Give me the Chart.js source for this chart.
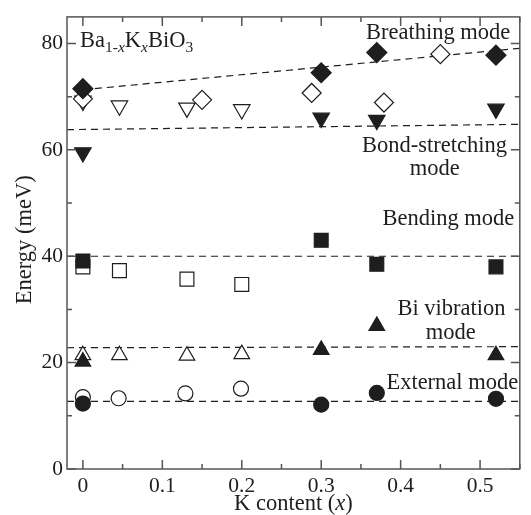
<!DOCTYPE html>
<html>
<head>
<meta charset="utf-8">
<script src="https://cdn.jsdelivr.net/npm/chart.js@4"></script>
<style>
  body { margin: 0; background: #fff; }
  canvas { display: block; }
</style>
</head>
<body>
<canvas id="myChart" width="531" height="515"></canvas>
<script>
// ---- data ----
const xTicks = [0, 0.1, 0.2, 0.3, 0.4, 0.5];
const yTicks = [0, 20, 40, 60, 80];

// breathing mode (diamonds)
const breathFilledX = [0, 0.30, 0.37, 0.52];
const breathFilledY = [71.5, 74.5, 78.3, 77.8];
const breathOpenX = [0, 0.15, 0.288, 0.379, 0.45];
const breathOpenY = [69.6, 69.4, 70.7, 68.9, 78.0];

// bond-stretching mode (down triangles)
const stretchOpenX = [0, 0.046, 0.131, 0.2];
const stretchOpenY = [69.2, 68.3, 67.9, 67.6];
const stretchFilledX = [0, 0.30, 0.37, 0.52];
const stretchFilledY = [59.5, 66.0, 65.6, 67.7];

// bending mode (squares)
const bendOpenX = [0, 0.046, 0.131, 0.2];
const bendOpenY = [38.0, 37.3, 35.7, 34.7];
const bendFilledX = [0, 0.30, 0.37, 0.52];
const bendFilledY = [39.1, 43.0, 38.5, 38.0];

// Bi vibration mode (up triangles)
const biOpenX = [0, 0.046, 0.131, 0.2];
const biOpenY = [21.4, 21.4, 21.3, 21.6];
const biFilledX = [0, 0.30, 0.37, 0.52];
const biFilledY = [20.2, 22.4, 26.9, 21.4];

// external mode (circles)
const extOpenX = [0, 0.045, 0.129, 0.199];
const extOpenY = [13.5, 13.3, 14.2, 15.1];
const extFilledX = [0, 0.30, 0.37, 0.52];
const extFilledY = [12.3, 12.1, 14.3, 13.2];

// dashed guide lines
const breathLineX = [0, 0.55];
const breathLineY = [71.3, 79.1];
const stretchLineX = [-0.02, 0.55];
const stretchLineY = [63.8, 64.8];
const bendLineX = [-0.02, 0.55];
const bendLineY = [40, 40];
const biLineX = [-0.02, 0.55];
const biLineY = [22.8, 23.0];
const extLineX = [-0.02, 0.55];
const extLineY = [12.7, 12.7];

// ---- helpers ----
const FONT = '"Liberation Serif", "DejaVu Serif", serif';
const INK = '#1e1e1e';

function pts(xs, ys) {
    return xs.map((x, i) => ({ x: x, y: ys[i] }));
}

function markers(xs, ys, style, radius, filled, rotation, order) {
    return {
        data: pts(xs, ys),
        showLine: false,
        pointStyle: style,
        pointRadius: radius,
        pointRotation: rotation || 0,
        backgroundColor: filled ? INK : '#fff',
        borderColor: INK,
        borderWidth: 1.2,
        order: order,
    };
}

function dashed(xs, ys) {
    return {
        type: 'line',
        data: pts(xs, ys),
        showLine: true,
        borderColor: INK,
        borderWidth: 1.2,
        borderDash: [7, 5],
        pointRadius: 0,
        fill: false,
        order: 10,
    };
}

// ---- plugin: frame, inward ticks, labels ----
const decor = {
    id: 'decor',
    afterDraw(chart) {
        const c = chart.ctx;
        const a = chart.chartArea;
        const xs = chart.scales.x;
        const ys = chart.scales.y;
        c.save();
        c.strokeStyle = '#555';
        c.lineWidth = 1.5;
        c.strokeRect(a.left, a.top, a.right - a.left, a.bottom - a.top);

        // x ticks top & bottom
        for (let i = 0; i <= 11; i++) {
            const v = i * 0.05;
            const px = xs.getPixelForValue(v);
            const len = i % 2 === 0 ? 9 : 5;
            c.beginPath();
            c.moveTo(px, a.bottom); c.lineTo(px, a.bottom - len);
            c.moveTo(px, a.top); c.lineTo(px, a.top + len);
            c.stroke();
        }
        // y ticks left & right
        for (let v = 0; v <= 80; v += 10) {
            const py = ys.getPixelForValue(v);
            const len = v % 20 === 0 ? 9 : 5;
            c.beginPath();
            c.moveTo(a.left, py); c.lineTo(a.left + len, py);
            c.moveTo(a.right, py); c.lineTo(a.right - len, py);
            c.stroke();
        }

        c.fillStyle = INK;
        c.textBaseline = 'middle';
        const f = '22.5px ' + FONT;
        const put = (txt, x, y, align) => {
            c.font = f;
            c.textAlign = align;
            c.fillText(txt, xs.getPixelForValue(x), ys.getPixelForValue(y));
        };
        put('Breathing mode', 0.538, 81.9, 'right');
        put('Bond-stretching', 0.534, 60.8, 'right');
        put('mode', 0.443, 56.3, 'center');
        put('Bending mode', 0.543, 47.0, 'right');
        put('Bi vibration', 0.532, 30.0, 'right');
        put('mode', 0.463, 25.5, 'center');
        put('External mode', 0.548, 16.2, 'right');

        // compound label with subscripts
        const runs = [
            ['Ba', '22.5px ' + FONT, 0],
            ['1-', '15.5px ' + FONT, 5],
            ['x', 'italic 15.5px ' + FONT, 5],
            ['K', '22.5px ' + FONT, 0],
            ['x', 'italic 15.5px ' + FONT, 5],
            ['BiO', '22.5px ' + FONT, 0],
            ['3', '15.5px ' + FONT, 5],
        ];
        c.textAlign = 'left';
        c.textBaseline = 'alphabetic';
        let cx = a.left + 13;
        const base = a.top + 30;
        runs.forEach(r => {
            c.font = r[1];
            c.fillText(r[0], cx, base + r[2]);
            cx += c.measureText(r[0]).width;
        });

        // x axis title with italic x
        const t1 = 'K content (', t2 = 'x', t3 = ')';
        c.font = f;
        const w1 = c.measureText(t1).width, w3 = c.measureText(t3).width;
        c.font = 'italic ' + f;
        const w2 = c.measureText(t2).width;
        let tx = (xs.getPixelForValue(0.265)) - (w1 + w2 + w3) / 2;
        const ty = a.bottom + 35;
        c.textBaseline = 'middle';
        c.font = f; c.fillText(t1, tx, ty); tx += w1;
        c.font = 'italic ' + f; c.fillText(t2, tx, ty); tx += w2;
        c.font = f; c.fillText(t3, tx, ty);

        // y axis title
        c.save();
        c.translate(25, ys.getPixelForValue(43.1));
        c.rotate(-Math.PI / 2);
        c.textAlign = 'center';
        c.font = f;
        c.fillText('Energy (meV)', 0, 0);
        c.restore();

        c.restore();
    }
};

const ctx = document.getElementById('myChart').getContext('2d');

const chartData = {
    type: 'scatter',
    data: {
        datasets: [
            dashed(breathLineX, breathLineY),
            dashed(stretchLineX, stretchLineY),
            dashed(bendLineX, bendLineY),
            dashed(biLineX, biLineY),
            dashed(extLineX, extLineY),
            markers(stretchOpenX, stretchOpenY, 'triangle', 9.5, false, 180, 4),
            markers(breathOpenX, breathOpenY, 'rectRot', 9.5, false, 0, 3),
            markers(breathFilledX, breathFilledY, 'rectRot', 10, true, 0, 1),
            markers(stretchFilledX, stretchFilledY, 'triangle', 9.5, true, 180, 1),
            markers(bendOpenX, bendOpenY, 'rect', 9.8, false, 0, 3),
            markers(bendFilledX, bendFilledY, 'rect', 9.8, true, 0, 1),
            markers(biOpenX, biOpenY, 'triangle', 9, false, 0, 3),
            markers(biFilledX, biFilledY, 'triangle', 9, true, 0, 1),
            markers(extOpenX, extOpenY, 'circle', 7.5, false, 0, 3),
            markers(extFilledX, extFilledY, 'circle', 7.5, true, 0, 1),
        ],
    },
    options: {
        responsive: false,
        animation: false,
        layout: { padding: { top: 13, right: 8, left: 0, bottom: 0 } },
        plugins: {
            legend: { display: false },
            tooltip: { enabled: false },
        },
        scales: {
            x: {
                type: 'linear',
                min: -0.02,
                max: 0.55,
                grid: { display: false, drawTicks: false },
                border: { display: false },
                ticks: {
                    padding: 4,
                    color: INK,
                    font: { family: FONT, size: 21.5 },
                    callback: v => String(Math.round(v * 10) / 10),
                },
                afterBuildTicks: s => { s.ticks = xTicks.map(v => ({ value: v })); },
                afterFit: s => { s.height = 46; },
            },
            y: {
                min: 0,
                max: 85,
                grid: { display: false, drawTicks: false },
                border: { display: false },
                ticks: {
                    padding: 4,
                    color: INK,
                    font: { family: FONT, size: 21.5 },
                },
                afterBuildTicks: s => { s.ticks = yTicks.map(v => ({ value: v })); },
                afterFit: s => { s.width = 67; },
            },
        },
    },
    plugins: [decor],
};

const EnergyChart = new Chart(ctx, chartData);
</script>
</body>
</html>
